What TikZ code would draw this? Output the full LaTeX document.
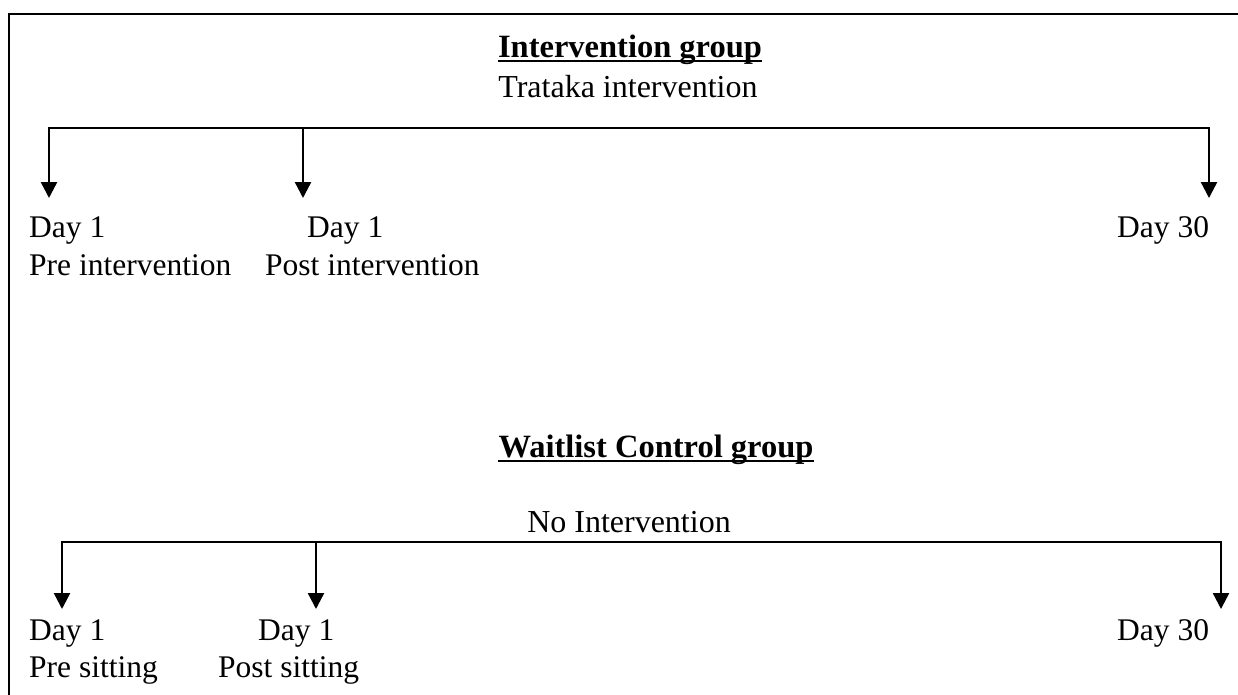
\documentclass[tikz,border=0pt]{standalone}
\usepackage{fontspec}
\setmainfont{Liberation Serif}
\usetikzlibrary{arrows.meta}
\tikzset{
  lbl/.style={inner sep=0pt, anchor=base west, font=\fontsize{31.5}{37}\selectfont},
  ttl/.style={inner sep=0pt, anchor=base, font=\fontsize{32.5}{38}\selectfont\bfseries},
  sub/.style={inner sep=0pt, anchor=base, font=\fontsize{32}{38}\selectfont},
  uline/.style={line width=2.4pt},
  bar/.style={line width=2.4pt},
  arr/.style={line width=2.4pt, -{Triangle[width=16pt,length=16pt]}},
  frame/.style={line width=2pt}
}
\begin{document}
\begin{tikzpicture}[x=1pt,y=-1pt]
\useasboundingbox (0,0) rectangle (1238,694);
% frame (top and left edges visible)
\coordinate (ftl) at (8.5,13.5);
\coordinate (ftr) at (1240,13.5);
\coordinate (fbl) at (8.5,696);
\draw[frame] (ftr) -- (ftl) -- (fbl);

% Intervention group
\node[ttl] (t1) at (630,57) {Intervention group};
\draw[uline] ([yshift=-3.8pt]t1.base west) -- ([yshift=-3.8pt]t1.base east);
\node[sub] (s1) at (628,97) {Trataka intervention};
\coordinate (b1a) at (49,128);
\coordinate (b1b) at (303,128);
\coordinate (b1c) at (1209,128);
\coordinate (e1a) at (49,198);
\coordinate (e1b) at (303,198);
\coordinate (e1c) at (1209,198);
\draw[bar] ([yshift=-1.2pt]b1a) -- (b1a) -- (b1c) -- ([yshift=-1.2pt]b1c);
\draw[arr] (b1a) -- (e1a);
\draw[arr] (b1b) -- (e1b);
\draw[arr] (b1c) -- (e1c);
\node[lbl] (d1a) at (29,237) {Day 1};
\node[lbl] (p1a) at (29,275) {Pre intervention};
\node[lbl] (d1b) at (307,237) {Day 1};
\node[lbl] (p1b) at (265,275) {Post intervention};
\node[lbl] (d1c) at (1117,237) {Day 30};

% Waitlist Control group
\node[ttl] (t2) at (656,457) {Waitlist Control group};
\draw[uline] ([yshift=-3.8pt]t2.base west) -- ([yshift=-3.8pt]t2.base east);
\node[sub] (s2) at (629,532) {No Intervention};
\coordinate (b2a) at (62,542);
\coordinate (b2b) at (316,542);
\coordinate (b2c) at (1221,542);
\coordinate (e2a) at (62,609);
\coordinate (e2b) at (316,609);
\coordinate (e2c) at (1221,609);
\draw[bar] ([yshift=-1.2pt]b2a) -- (b2a) -- (b2c) -- ([yshift=-1.2pt]b2c);
\draw[arr] (b2a) -- (e2a);
\draw[arr] (b2b) -- (e2b);
\draw[arr] (b2c) -- (e2c);
\node[lbl] (d2a) at (29,640) {Day 1};
\node[lbl] (p2a) at (29,677) {Pre sitting};
\node[lbl] (d2b) at (258,640) {Day 1};
\node[lbl] (p2b) at (218,677) {Post sitting};
\node[lbl] (d2c) at (1117,640) {Day 30};
\end{tikzpicture}
\end{document}
